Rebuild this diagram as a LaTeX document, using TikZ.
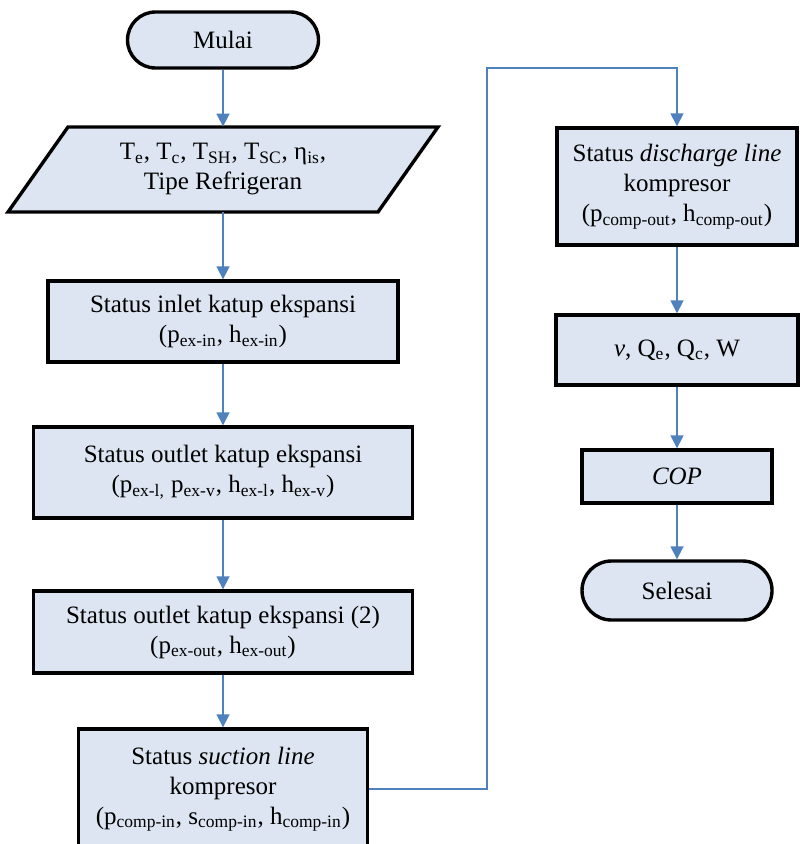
\documentclass[tikz,border=0pt]{standalone}
\usepackage{fontspec}
\setmainfont{Liberation Serif}
\usetikzlibrary{arrows.meta}

\definecolor{boxfill}{RGB}{220,229,241}
\definecolor{flowblue}{RGB}{79,129,189}

\begin{document}
\begin{tikzpicture}[x=0.5pt,y=-0.5pt,
  txt/.style={align=center,inner sep=0pt,font=\fontsize{12.5}{15}\selectfont},
  box/.style={txt,draw=black,line width=1.7pt,fill=boxfill},
  pill/.style={box,rounded corners=14pt},
  flow/.style={draw=flowblue,line width=0.85pt,-{Triangle[width=6.5pt,length=6.5pt]}}]
\useasboundingbox (0,0) rectangle (810,844);

% left column
\node[pill,minimum width=95.5pt,minimum height=28pt] (mulai) at (223,40) {Mulai};

\draw[box] (68,127) -- (438,127) -- (378,212) -- (8,212) -- cycle;
\node[txt,minimum width=150pt,minimum height=42.5pt] (input) at (223,169.5)
  {T\textsubscript{e}, T\textsubscript{c}, T\textsubscript{SH}, T\textsubscript{SC}, η\textsubscript{is},\\ Tipe Refrigeran};

\node[box,minimum width=175pt,minimum height=40.5pt] (inlet) at (223,321.5)
  {Status inlet katup ekspansi\\ (p\textsubscript{ex-in}, h\textsubscript{ex-in})};
\node[box,minimum width=189.5pt,minimum height=45.5pt] (outlet) at (223,472.5)
  {Status outlet katup ekspansi\\ (p\textsubscript{ex-l,} p\textsubscript{ex-v}, h\textsubscript{ex-l}, h\textsubscript{ex-v})};
\node[box,minimum width=189.5pt,minimum height=41pt] (outlettwo) at (223,632)
  {Status outlet katup ekspansi (2)\\ (p\textsubscript{ex-out}, h\textsubscript{ex-out})};
\node[box,minimum width=144.5pt,minimum height=60pt] (suction) at (223,789)
  {Status \textit{suction line}\\ kompresor\\ (p\textsubscript{comp-in}, s\textsubscript{comp-in}, h\textsubscript{comp-in})};

% right column
\node[box,minimum width=120pt,minimum height=58.5pt] (discharge) at (677,186.5)
  {Status \textit{discharge line}\\ kompresor\\ (p\textsubscript{comp-out}, h\textsubscript{comp-out})};
\node[box,minimum width=121pt,minimum height=35pt] (vq) at (677,350)
  {\textit{v}, Q\textsubscript{e}, Q\textsubscript{c}, W};
\node[box,minimum width=95pt,minimum height=26.5pt] (cop) at (677,476.5) {\textit{COP}};
\node[pill,rounded corners=14.75pt,minimum width=95pt,minimum height=29.5pt] (selesai) at (677,590.5) {Selesai};

\coordinate (jog) at (487,68);

\draw[flow] (mulai.south) -- (input.north);
\draw[flow] (input.south) -- (inlet.north);
\draw[flow] (inlet.south) -- (outlet.north);
\draw[flow] (outlet.south) -- (outlettwo.north);
\draw[flow] (outlettwo.south) -- (suction.north);
\draw[flow] (suction.east) -| (jog) -| (discharge.north);
\draw[flow] (discharge.south) -- (vq.north);
\draw[flow] (vq.south) -- (cop.north);
\draw[flow] (cop.south) -- (selesai.north);
\end{tikzpicture}
\end{document}
